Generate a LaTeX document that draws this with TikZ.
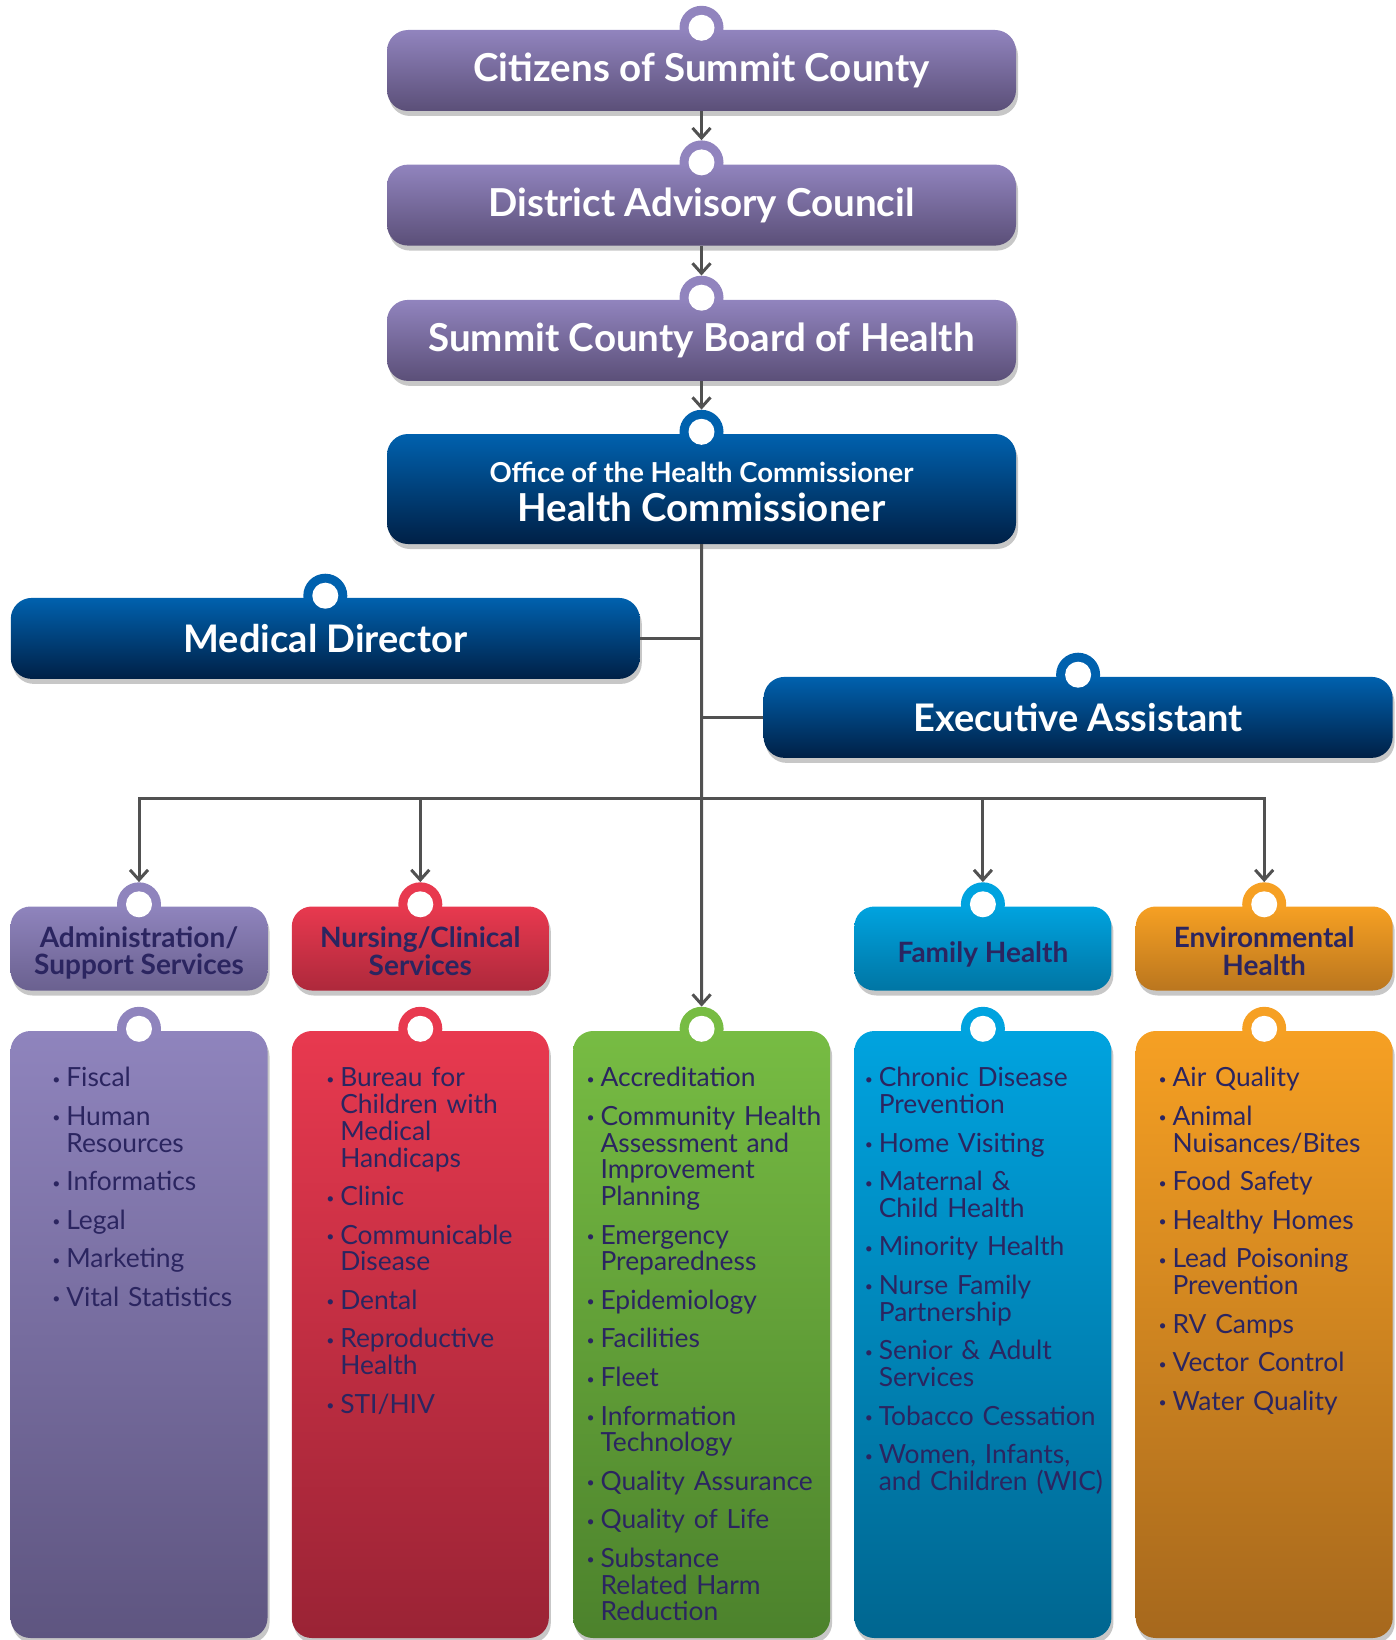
\documentclass[tikz,border=0pt]{standalone}
\usepackage{fontspec}
\setmainfont{Lato}
\usetikzlibrary{arrows.meta,shadows,backgrounds}

\definecolor{inkwire}{HTML}{515151}
\definecolor{navytext}{HTML}{2B2560}
\definecolor{lilactop}{HTML}{9184BE}
\definecolor{lilacbot}{HTML}{5B4F78}
\definecolor{bluetop}{HTML}{0061AE}
\definecolor{bluebot}{HTML}{002046}
\definecolor{admintop}{HTML}{8F84BD}
\definecolor{adminbot}{HTML}{5E5580}
\definecolor{nursetop}{HTML}{E8394F}
\definecolor{nursebot}{HTML}{9A2335}
\definecolor{greentop}{HTML}{77BC43}
\definecolor{greenbot}{HTML}{4C822C}
\definecolor{familytop}{HTML}{00A3DF}
\definecolor{familybot}{HTML}{006690}
\definecolor{envtop}{HTML}{F6A023}
\definecolor{envbot}{HTML}{A6681D}

\newcommand\dotmark{\raisebox{2.5pt}{\fontsize{14}{14}\selectfont\textbullet}}
\newcommand\entry[1]{\par\noindent\hangindent=14pt\hangafter=1\rule{0pt}{20pt}\makebox[14pt][l]{\dotmark}#1}
\newcommand\nl{\hfil\break}
% tab on top of a box: name, box, colour
\newcommand\ring[3]{%
  \begin{scope}[on background layer]
    \node[tabdisc, fill=#3] (#1) at ([yshift=2pt]#2.north) {};
  \end{scope}
  \node[hole] at (#1) {};}

\tikzset{
  wire/.style={draw=inkwire, line width=3pt},
  downtip/.style={-{Straight Barb[length=10pt,width=18pt]}},
  lift/.style={drop shadow={shadow xshift=2pt,shadow yshift=-5pt,opacity=0.22,fill=black}},
  chief/.style={rectangle, rounded corners=21pt, minimum width=629pt, minimum height=81pt,
    text=white, inner sep=0pt, lift, font=\fontsize{38.5}{40}\selectfont\bfseries},
  lilac/.style={chief, top color=lilactop, bottom color=lilacbot},
  royal/.style={chief, top color=bluetop, bottom color=bluebot},
  depthead/.style={rectangle, rounded corners=20pt, minimum width=257pt, minimum height=84pt,
    text=navytext, inner sep=0pt, align=center, lift, font=\fontsize{28}{27.5}\selectfont\bfseries},
  duties/.style={rectangle, rounded corners=20pt, minimum width=257pt, minimum height=607pt,
    inner sep=0pt, lift},
  itemlist/.style={anchor=north west, inner sep=0pt, text width=300pt, align=left, text=navytext,
    font=\fontsize{26.4}{26.75}\selectfont, execute at begin node={\parskip=11.8pt\relax}},
  tabdisc/.style={circle, minimum size=44pt, inner sep=0pt},
  hole/.style={circle, fill=white, minimum size=26pt, inner sep=0pt},
}

\begin{document}
\begin{tikzpicture}[x=1pt, y=-1pt]
  \useasboundingbox (0,0) rectangle (1395,1640);

  \node[lilac] (citizens) at (701.5,70.5) {Citizens of Summit County};
  \node[lilac] (district) [below of=citizens, node distance=134.6pt] {District Advisory Council};
  \node[lilac] (board) [below of=district, node distance=135.3pt] {Summit County Board of Health};
  \node[royal, minimum height=110pt, align=center] (office) [below of=board, node distance=148.6pt]
    {\rule{0pt}{27pt}{\fontsize{27.5}{30}\selectfont Office of the Health Commissioner}\\[-1pt]Health Commissioner};

  \node[royal, font=\fontsize{38}{40}\selectfont\bfseries] (medical) at (325.3,638.4) {Medical Director};
  \node[royal, font=\fontsize{38}{40}\selectfont\bfseries] (assistant) at (1078.1,717.4) {Executive Assistant};

  \node[depthead, top color=admintop, bottom color=admintop!25!adminbot] (headadmin) at (139,948.5)
    {\rule{0pt}{30pt}Administration/\\Support Services};
  \node[depthead, top color=nursetop, bottom color=nursetop!25!nursebot] (headnursing)
    [right of=headadmin, node distance=281.3pt] {\rule{0pt}{26pt}Nursing/Clinical\\Services};
  \node[depthead, top color=familytop, bottom color=familytop!25!familybot] (headfamily)
    [right of=headnursing, node distance=562.6pt] {\rule{0pt}{32pt}Family Health};
  \node[depthead, top color=envtop, bottom color=envtop!25!envbot] (headenv)
    [right of=headfamily, node distance=281.3pt] {\rule{0pt}{26pt}Environmental\\Health};

  \node[duties, top color=admintop, bottom color=adminbot] (boxadmin)
    [below of=headadmin, node distance=386pt] {};
  \node[duties, top color=nursetop, bottom color=nursebot] (boxnursing)
    [below of=headnursing, node distance=386pt] {};
  \node[duties, top color=greentop, bottom color=greenbot] (boxgreen)
    [right of=boxnursing, node distance=281.3pt] {};
  \node[duties, top color=familytop, bottom color=familybot] (boxfamily)
    [below of=headfamily, node distance=386pt] {};
  \node[duties, top color=envtop, bottom color=envbot] (boxenv)
    [below of=headenv, node distance=386pt] {};

  \ring{tabcitizens}{citizens}{lilactop}
  \ring{tabdistrict}{district}{lilactop}
  \ring{tabboard}{board}{lilactop}
  \ring{taboffice}{office}{bluetop}
  \ring{tabmedical}{medical}{bluetop}
  \ring{tabassistant}{assistant}{bluetop}
  \ring{tabadmin}{headadmin}{admintop}
  \ring{tabnursing}{headnursing}{nursetop}
  \ring{tabfamily}{headfamily}{familytop}
  \ring{tabenv}{headenv}{envtop}
  \ring{taboxadmin}{boxadmin}{admintop}
  \ring{taboxnursing}{boxnursing}{nursetop}
  \ring{tabgreen}{boxgreen}{greentop}
  \ring{taboxfamily}{boxfamily}{familytop}
  \ring{taboxenv}{boxenv}{envtop}

  \node[itemlist] (listadmin) at (52.1,1048) {\entry{Fiscal}\entry{Human\nl Resources}
    \entry{Informatics}\entry{Legal}\entry{Marketing}\entry{Vital Statistics}\par};
  \node[itemlist] (listnursing) at (326.1,1048) {\entry{Bureau for\nl Children with\nl Medical\nl Handicaps}
    \entry{Clinic}\entry{Communicable\nl Disease}\entry{Dental}\entry{Reproductive\nl Health}\entry{STI/HIV}\par};
  \node[itemlist] (listgreen) at (586.4,1048) {\entry{Accreditation}
    \entry{Community Health\nl Assessment and\nl Improvement\nl Planning}
    \entry{Emergency\nl Preparedness}\entry{Epidemiology}\entry{Facilities}\entry{Fleet}
    \entry{Information\nl Technology}\entry{Quality Assurance}\entry{Quality of Life}
    \entry{Substance\nl Related Harm\nl Reduction}\par};
  \node[itemlist] (listfamily) at (864.6,1048) {\entry{Chronic Disease\nl Prevention}
    \entry{Home Visiting}\entry{Maternal \&\nl Child Health}\entry{Minority Health}
    \entry{Nurse Family\nl Partnership}\entry{Senior \& Adult\nl Services}
    \entry{Tobacco Cessation}\entry{Women, Infants,\nl and Children (WIC)}\par};
  \node[itemlist] (listenv) at (1158.4,1048) {\entry{Air Quality}\entry{Animal\nl Nuisances/Bites}
    \entry{Food Safety}\entry{Healthy Homes}\entry{Lead Poisoning\nl Prevention}
    \entry{RV Camps}\entry{Vector Control}\entry{Water Quality}\par};

  \draw[wire, downtip] (citizens) -- (tabdistrict.north);
  \draw[wire, downtip] (district) -- (tabboard.north);
  \draw[wire, downtip] (board) -- (taboffice.north);
  \draw[wire, downtip] (office) -- (tabgreen.north);
  \draw[wire] (medical) -- (medical -| office);
  \draw[wire] (assistant) -- (assistant -| office);
  \coordinate (bus) at (701.5,798.9);
  \foreach \n in {admin,nursing,family,env}
    \draw[wire, downtip] (bus) -| (tab\n.north);

\end{tikzpicture}
\end{document}
